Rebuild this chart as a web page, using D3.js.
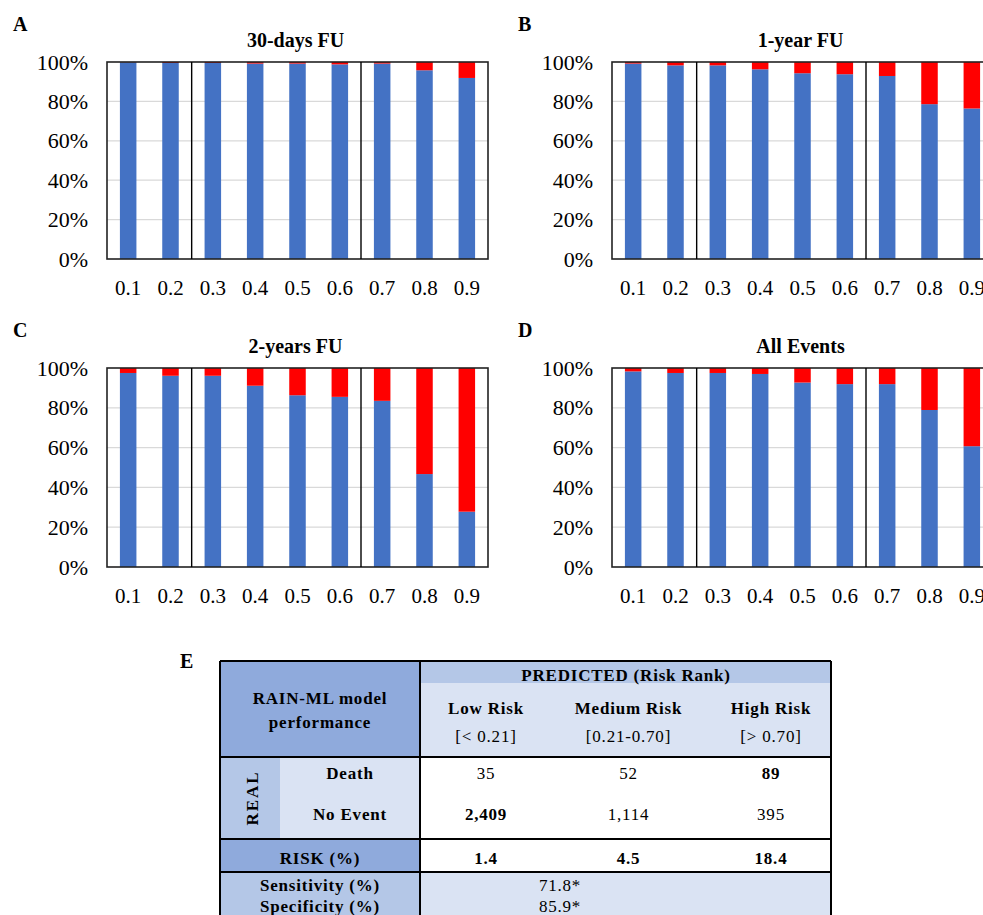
<!DOCTYPE html>
<meta charset="utf-8">
<style>
  body { margin: 0; background: #fff; }
  text { font-family: "Liberation Serif", "Times New Roman", serif; fill: #000; }
</style>
<body>
<script src="https://d3js.org/d3.v7.min.js"></script>
<div id="figure"></div>
<script>

// risk rank categories on the x axis
var categories = ["0.1", "0.2", "0.3", "0.4", "0.5", "0.6", "0.7", "0.8", "0.9"];
var yTicks = [0, 20, 40, 60, 80, 100];

// % of patients with no event (blue) and with event (red), per panel
var noEvent30d = [99.9, 99.5, 99.5, 99.2, 99.2, 98.8, 99.2, 95.8, 91.9];
var event30d   = [0.1, 0.5, 0.5, 0.8, 0.8, 1.2, 0.8, 4.2, 8.1];
var noEvent1y  = [99.2, 98.3, 98.3, 96.3, 94.3, 93.8, 92.9, 78.6, 76.4];
var event1y    = [0.8, 1.7, 1.7, 3.7, 5.7, 6.2, 7.1, 21.4, 23.6];
var noEvent2y  = [97.5, 96.1, 96.1, 91.1, 86.3, 85.5, 83.5, 46.7, 27.8];
var event2y    = [2.5, 3.9, 3.9, 8.9, 13.7, 14.5, 16.5, 53.3, 72.2];
var noEventAll = [98.3, 97.5, 97.5, 97.0, 92.7, 91.9, 91.9, 78.9, 60.7];
var eventAll   = [1.7, 2.5, 2.5, 3.0, 7.3, 8.1, 8.1, 21.1, 39.3];

// table E
var riskGroups = ["Low Risk", "Medium Risk", "High Risk"];
var riskRanges = ["[< 0.21]", "[0.21-0.70]", "[> 0.70]"];
var deaths     = ["35", "52", "89"];
var noEvents   = ["2,409", "1,114", "395"];
var riskPct    = ["1.4", "4.5", "18.4"];

var colorNoEvent = "#4472c4",
    colorEvent = "#ff0000";

var svg = d3.select("#figure")
  .append("svg")
    .attr("width", 983)
    .attr("height", 915);

var panels = [
  {label: "A", title: "30-days FU", blue: noEvent30d, red: event30d, left: 107, top: 62, bottom: 259},
  {label: "B", title: "1-year FU", blue: noEvent1y, red: event1y, left: 612, top: 62, bottom: 259},
  {label: "C", title: "2-years FU", blue: noEvent2y, red: event2y, left: 107, top: 368, bottom: 567},
  {label: "D", title: "All Events", blue: noEventAll, red: eventAll, left: 612, top: 368, bottom: 567}
];
var plotWidth = 381;

panels.forEach(function(p) {
  var x = d3.scaleBand()
            .domain(categories)
            .range([p.left, p.left + plotWidth])
            .paddingInner(0.61)
            .paddingOuter(0.305);
  var y = d3.scaleLinear()
            .domain([0, 100])
            .range([p.bottom, p.top]);

  var g = svg.append("g");

  // horizontal gridlines
  g.selectAll(".grid")
    .data(yTicks.filter(function(t){ return t > 0 && t < 100; }))
    .enter()
    .append("line")
      .attr("x1", p.left).attr("x2", p.left + plotWidth)
      .attr("y1", function(d){ return y(d); })
      .attr("y2", function(d){ return y(d); })
      .style("stroke", "#d9d9d9")
      .style("stroke-width", 1.2);

  // stacked bars: blue from 0, red on top
  var rows = categories.map(function(c, i){ return {cat: c, blue: p.blue[i], red: p.red[i]}; });
  var stacked = d3.stack().keys(["blue", "red"])(rows);
  var colors = {blue: colorNoEvent, red: colorEvent};

  g.selectAll(".series")
    .data(stacked)
    .enter()
    .append("g")
      .style("fill", function(d){ return colors[d.key]; })
    .selectAll("rect")
    .data(function(d){ return d; })
    .enter()
    .append("rect")
      .attr("x", function(d){ return x(d.data.cat); })
      .attr("y", function(d){ return y(Math.min(d[1], 100)); })
      .attr("width", x.bandwidth())
      .attr("height", function(d){ return y(d[0]) - y(Math.min(d[1], 100)); });

  // plot frame
  g.append("rect")
    .attr("x", p.left).attr("y", p.top)
    .attr("width", plotWidth).attr("height", p.bottom - p.top)
    .style("fill", "none")
    .style("stroke", "#222")
    .style("stroke-width", 1.6);

  // separators between risk groups (after 0.2 and after 0.6)
  var half = (x.step() - x.bandwidth()) / 2;
  [categories[2], categories[6]].forEach(function(c) {
    g.append("line")
      .attr("x1", x(c) - half).attr("x2", x(c) - half)
      .attr("y1", p.top).attr("y2", p.bottom)
      .style("stroke", "#000")
      .style("stroke-width", 1.4);
  });

  // y axis labels
  var yAxis = d3.axisLeft(y).tickValues(yTicks).tickSize(0).tickPadding(19)
                .tickFormat(function(d){ return d + "%"; });
  g.append("g")
    .attr("transform", "translate(" + p.left + ",0)")
    .call(yAxis)
    .call(function(a){ a.select(".domain").remove(); })
    .selectAll("text")
      .style("font-family", "Liberation Serif")
      .style("font-size", "22px")
      .style("fill", "#000");

  // x axis labels
  var xAxis = d3.axisBottom(x).tickSize(0).tickPadding(21);
  g.append("g")
    .attr("transform", "translate(0," + p.bottom + ")")
    .call(xAxis)
    .call(function(a){ a.select(".domain").remove(); })
    .selectAll("text")
      .style("font-family", "Liberation Serif")
      .style("font-size", "21px")
      .style("fill", "#000");

  // title
  g.append("text")
    .attr("x", p.left + plotWidth / 2 - 2)
    .attr("y", p.top - 15)
    .attr("text-anchor", "middle")
    .style("font-size", "20px")
    .style("font-weight", "bold")
    .text(p.title);

  // panel letter
  g.append("text")
    .attr("x", p.left - 94)
    .attr("y", p.top - 31)
    .style("font-size", "20px")
    .style("font-weight", "bold")
    .text(p.label);
});

// ---------- Table E ----------
var tl = 220, tr = 831, tsplit = 420, trealSplit = 280,
    ttop = 661, tband = 683, thead = 757, tdata = 839, trisk = 872, tbottom = 930;
var colX = d3.scalePoint().domain(riskGroups).range([486, 771]);

var tab = svg.append("g");

tab.append("text")
  .attr("x", 180).attr("y", 668)
  .style("font-size", "20px").style("font-weight", "bold")
  .text("E");

function cell(x0, y0, x1, y1, fill) {
  tab.append("rect")
    .attr("x", x0).attr("y", y0)
    .attr("width", x1 - x0).attr("height", y1 - y0)
    .style("fill", fill);
}
cell(tl, ttop, tsplit, thead, "#8faadc");
cell(tsplit, ttop, tr, tband, "#b4c7e7");
cell(tsplit, tband, tr, thead, "#dae3f3");
cell(tl, thead, trealSplit, tdata, "#b4c7e7");
cell(trealSplit, thead, tsplit, tdata, "#dae3f3");
cell(tsplit, thead, tr, tdata, "#ffffff");
cell(tl, tdata, tsplit, trisk, "#8faadc");
cell(tsplit, tdata, tr, trisk, "#ffffff");
cell(tl, trisk, tsplit, tbottom, "#b4c7e7");
cell(tsplit, trisk, tr, tbottom, "#dae3f3");

// thick borders
function rule(x1, y1, x2, y2) {
  tab.append("line")
    .attr("x1", x1).attr("y1", y1).attr("x2", x2).attr("y2", y2)
    .style("stroke", "#000").style("stroke-width", 2);
}
rule(tl, ttop, tr, ttop);
rule(tl, ttop, tl, tbottom);
rule(tr, ttop, tr, tbottom);
rule(tsplit, ttop, tsplit, tbottom);
rule(tl, thead, tr, thead);
rule(tl, tdata, tr, tdata);
rule(tl, trisk, tr, trisk);

function label(x, y, txt, bold) {
  return tab.append("text")
    .attr("x", x).attr("y", y)
    .attr("text-anchor", "middle")
    .style("font-size", "17px")
    .style("letter-spacing", "0.8px")
    .style("font-weight", bold ? "bold" : "normal")
    .text(txt);
}

label(320, 704, "RAIN-ML model", true);
label(320, 728, "performance", true);
label(626, 681, "PREDICTED (Risk Rank)", true);

riskGroups.forEach(function(r, i) {
  var cx = colX(r);
  label(cx, 714, r, true);
  label(cx, 742, riskRanges[i], false);
  label(cx, 779, deaths[i], i == 2);
  label(cx, 820, noEvents[i], i == 0);
  label(cx, 864, riskPct[i], true);
});

label(350, 779, "Death", true);
label(350, 820, "No Event", true);
tab.append("text")
  .attr("transform", "translate(258,798) rotate(-90)")
  .attr("text-anchor", "middle")
  .style("font-size", "17px")
  .style("letter-spacing", "2px")
  .style("font-weight", "bold")
  .text("REAL");
label(320, 864, "RISK (%)", true);
label(320, 891, "Sensitivity (%)", true);
label(320, 912, "Specificity (%)", true);
label(560, 891, "71.8*", false);
label(560, 912, "85.9*", false);

</script>
</body>
